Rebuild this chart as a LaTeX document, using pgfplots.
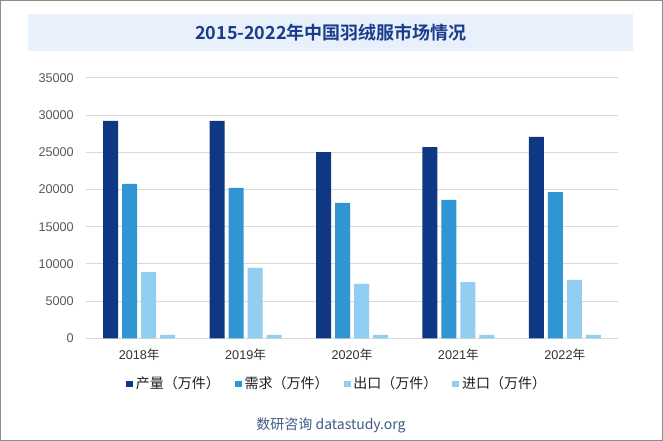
\documentclass[border=0pt]{standalone}
\usepackage{fontspec}
\usepackage{pgfplots}
\pgfplotsset{compat=1.18}
\setmainfont{Liberation Sans}
\newfontfamily\cjk{Noto Sans CJK SC}
\newfontfamily\titlefont{Noto Sans CJK SC}[BoldFont={Noto Sans CJK SC Bold}]
\definecolor{c1}{RGB}{15,56,132}
\definecolor{c2}{RGB}{49,149,211}
\definecolor{c3}{RGB}{146,205,242}
\definecolor{gridc}{RGB}{217,217,217}
\definecolor{titlebg}{RGB}{232,240,251}
\definecolor{titlec}{RGB}{26,60,140}
\definecolor{wm}{RGB}{62,92,133}
\begin{document}
\begin{tikzpicture}
\useasboundingbox (0pt,0pt) rectangle (497.25pt,330.75pt);
\fill[white] (0pt,0pt) rectangle (497.25pt,330.75pt);
\draw[color={rgb,255:red,140;green,140;blue,140}, line width=1pt] (0.5pt,0.5pt) rectangle (496.75pt,330.25pt);
\fill[titlebg] (21pt,292.5pt) rectangle (474.75pt,320.25pt);
\node[text=titlec, font=\titlefont\bfseries\fontsize{13.5}{14}\selectfont] at (248.25pt,306.4pt) {2015-2022年中国羽绒服市场情况};
\node[text=wm, font=\cjk\fontsize{10.5}{11}\selectfont] at (248.25pt,12pt) {数研咨询 datastudy.org};
\begin{axis}[
  at={(64.5pt,77pt)}, anchor=south west,
  scale only axis, width=399pt, height=195.4pt,
  ybar=3pt, bar width=11.25pt,
  xmin=-0.5, xmax=4.5, ymin=0, ymax=35000,
  xtick={0,1,2,3,4},
  xticklabels={2018{\cjk 年},2019{\cjk 年},2020{\cjk 年},2021{\cjk 年},2022{\cjk 年}},
  ytick={0,5000,...,35000},
  scaled y ticks=false,
  yticklabel={\pgfmathprintnumber[fixed,1000 sep={}]{\tick}},
  /pgf/number format/assume math mode=true,
  major tick length=0pt,
  axis line style={draw=none},
  ymajorgrids, grid style={gridc, line width=0.75pt},
  yticklabel style={inner xsep=0pt, xshift=-9pt, text={rgb,255:red,89;green,89;blue,89}, font=\fontsize{9.5}{10}\selectfont},
  xticklabel style={inner sep=0pt, yshift=-8pt, text={rgb,255:red,50;green,50;blue,50}, font=\fontsize{9.5}{10}\selectfont},
  legend columns=4,
  legend style={at={(0.075,-0.175)}, anchor=west, draw=none, inner sep=0pt, fill=none,
    font=\cjk\fontsize{10.5}{11}\selectfont, text={rgb,255:red,30;green,30;blue,30},
    /tikz/every even column/.append style={column sep=9.3pt},
    /tikz/every odd column/.append style={column sep=0pt}},
  legend image code/.code={\fill[#1] (0pt,-2.5pt) rectangle (5.25pt,2.5pt);},
]
\addplot[fill=c1, draw=none] coordinates {(0,29200) (1,29200) (2,25000) (3,25700) (4,27050)};
\addplot[fill=c2, draw=none] coordinates {(0,20750) (1,20200) (2,18200) (3,18600) (4,19650)};
\addplot[fill=c3, draw=none] coordinates {(0,8900) (1,9450) (2,7300) (3,7550) (4,7850)};
\addplot[fill=c3, draw=none] coordinates {(0,450) (1,450) (2,450) (3,450) (4,450)};
\addlegendentry{产量（万件）}
\addlegendentry{需求（万件）}
\addlegendentry{出口（万件）}
\addlegendentry{进口（万件）}
\end{axis}
\end{tikzpicture}
\end{document}
